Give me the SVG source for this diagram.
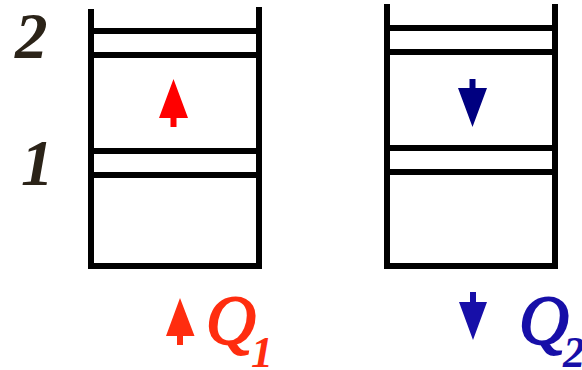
<svg xmlns="http://www.w3.org/2000/svg" width="582" height="370" viewBox="0 0 582 370">
<style>
.w{fill:none;stroke:#000;stroke-width:6}
.t{font-family:"Liberation Serif",serif;font-style:italic;font-weight:bold}
.lv{fill:#2b2318;font-size:65px}
.r{fill:#ff2d0f}
.b{fill:#170fa8}
.q{font-size:69px;font-weight:normal;stroke-width:2px}
.s{font-size:44px}
.r.q{stroke:#ff2d0f}
.b.q{stroke:#170fa8}
</style>
<rect width="582" height="370" fill="#fff"/>
<g id="level-labels">
<text class="t lv" x="15" y="58">2</text>
<text class="t lv" x="21" y="185">1</text>
</g>
<g id="left-diagram">
<path class="w" d="M91 9V266H259V7M94 31H256M94 55H256M94 151H256M94 175H256"/>
<polygon fill="#f00" points="173.500,79 188,118 176.500,118 176.500,127 170.500,127 170.500,118 159,118"/>
</g>
<g id="right-diagram">
<path class="w" d="M387 4V266H555V4M390 28H552M390 52H552M390 148H552M390 172H552"/>
<polygon fill="#000080" points="472.500,127 487,88 475.500,88 475.500,79 469.500,79 469.500,88 458,88"/>
</g>
<g id="q1">
<polygon class="r" points="180,298 194.500,336 183,336 183,345 177,345 177,336 166,336"/>
<text class="t r q" x="206" y="344">Q</text>
<text class="t r s" x="251" y="367">1</text>
</g>
<g id="q2">
<polygon class="b" points="473,340 487,302 476,302 476,292 470,292 470,302 459,302"/>
<text class="t b q" x="519" y="344">Q</text>
<text class="t b s" x="563" y="367">2</text>
</g>
</svg>
